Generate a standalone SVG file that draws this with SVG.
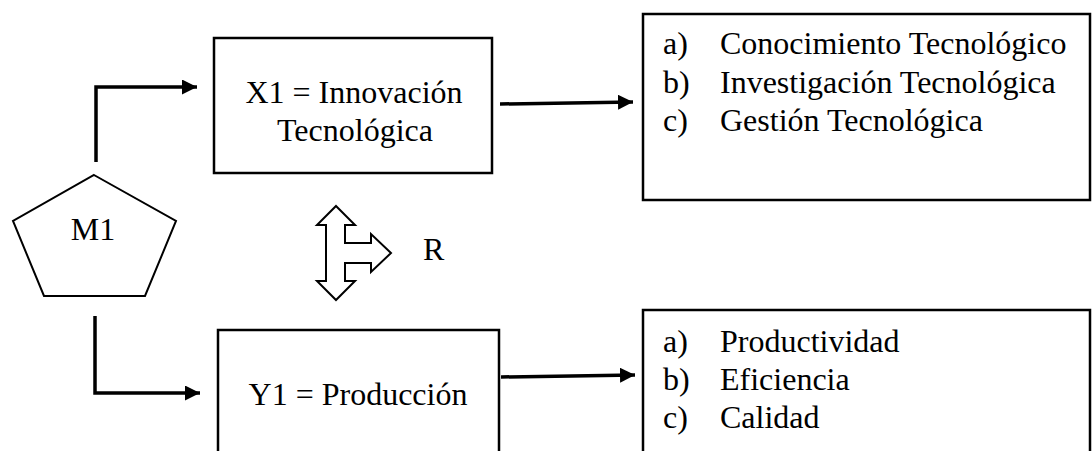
<svg xmlns="http://www.w3.org/2000/svg" width="1092" height="451" viewBox="0 0 1092 451">
<style>
text{font-size:32px;fill:#000}
.box{fill:#fff;stroke:#000;stroke-width:2.5}
.shape{fill:#fff;stroke:#000;stroke-width:2}
.conn{fill:none;stroke:#000;stroke-width:3.5}
.mid{text-anchor:middle}
</style>
<defs>
<marker id="ah" markerUnits="userSpaceOnUse" markerWidth="16" markerHeight="16" refX="15" refY="7.5" orient="auto">
<path d="M0,0 L15,7.5 L0,15 z" fill="#000"/>
</marker>
</defs>
<rect width="1092" height="451" fill="#fff"/>
<g id="connectors">
<path class="conn" d="M96,162 V87 H197" marker-end="url(#ah)"/>
<path class="conn" d="M95,316 V393 H200" marker-end="url(#ah)"/>
<path class="conn" d="M500,104 L633,102" marker-end="url(#ah)"/>
<path class="conn" d="M501,377 L635,375" marker-end="url(#ah)"/>
</g>
<g font-family="Liberation Serif, serif">
<g id="m1">
<polygon class="shape" points="94,175 176,221 145,296 44,296 13,221"/>
<text x="93" y="240" class="mid">M1</text>
</g>
<g id="x1">
<rect class="box" x="214" y="38" width="278" height="135"/>
<text x="354" y="103" class="mid">X1 = Innovación</text>
<text x="355" y="141" class="mid">Tecnológica</text>
</g>
<g id="y1">
<rect class="box" x="218" y="330" width="281" height="140"/>
<text x="358" y="405" class="mid">Y1 = Producción</text>
</g>
<g id="r">
<polygon class="shape" points="336,206 355,225 345,225 345,243 371,243 371,234 391,253 371,272 371,263 345,263 345,281 355,281 336,300 317,281 326,281 326,225 317,225"/>
<text x="423" y="260">R</text>
</g>
<g id="x1-dims">
<rect class="box" x="643" y="14" width="447" height="186"/>
<text x="663" y="54">a)</text><text x="720" y="54">Conocimiento Tecnológico</text>
<text x="663" y="92.5">b)</text><text x="720" y="92.5">Investigación Tecnológica</text>
<text x="663" y="131">c)</text><text x="720" y="131">Gestión Tecnológica</text>
</g>
<g id="y1-dims">
<rect class="box" x="643" y="310" width="447" height="160"/>
<text x="663" y="351.5">a)</text><text x="720" y="351.5">Productividad</text>
<text x="663" y="389.5">b)</text><text x="720" y="389.5">Eficiencia</text>
<text x="663" y="428">c)</text><text x="720" y="428">Calidad</text>
</g>
</g>
</svg>
